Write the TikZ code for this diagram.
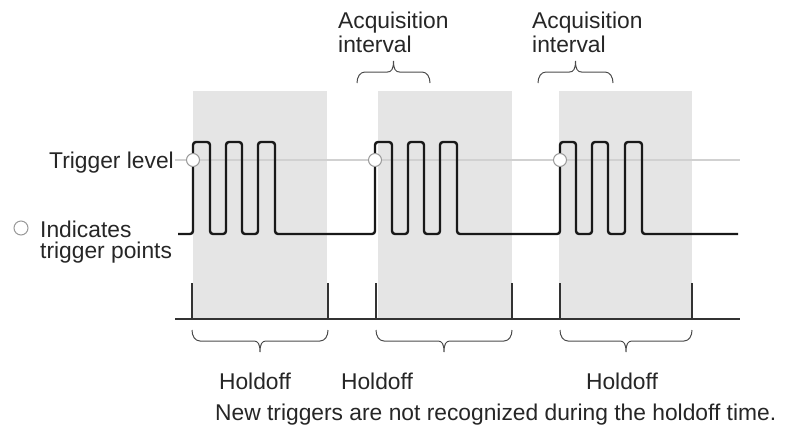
\documentclass[tikz,border=0pt]{standalone}
\usepackage{fontspec}
\setmainfont{Liberation Sans}
\newcommand\mybrace[4]{% x1, x2, y0, direction (1 down, -1 up)
  \begin{scope}[shift={(0,#3)}, yscale=#4]
    \pgfmathsetmacro\bm{(#1+#2)/2}
    \draw[brc] (#1,0) .. controls (#1,6) and (#1+3,11) .. (#1+8,11)
      -- (\bm-6,11) .. controls (\bm-2,11) and (\bm,14) .. (\bm,22)
      .. controls (\bm,14) and (\bm+2,11) .. (\bm+6,11)
      -- (#2-8,11) .. controls (#2-3,11) and (#2,6) .. (#2,0);
  \end{scope}}
\begin{document}
\begin{tikzpicture}[x=1pt,y=-1pt,
  txt/.style={font=\fontsize{22.8}{24}\selectfont, text=black!85, inner sep=0pt},
  holdbox/.style={fill=black!10, draw=none},
  sig/.style={line width=2.4pt, draw=black!90, rounded corners=3pt, line join=round},
  trigline/.style={line width=1.3pt, draw=black!18},
  trigpt/.style={draw=black!40, fill=white, line width=1pt},
  tickline/.style={line width=1.6pt, draw=black!80},
  brc/.style={draw=black!70, line width=1pt}]
\useasboundingbox (0,0) rectangle (789,437);
% holdoff shading
\fill[holdbox] (193,91) rectangle (327,319);
\fill[holdbox] (378,91) rectangle (512,319);
\fill[holdbox] (559,91) rectangle (692,319);
% trigger level
\coordinate (tl0) at (175,160);
\coordinate (tl1) at (740,160);
\draw[trigline] (tl0) -- (tl1);
% signal
\draw[sig] (178,234)
  -- (193,234) -- (193,142) -- (210,142) -- (210,234)
  -- (226,234) -- (226,142) -- (242,142) -- (242,234)
  -- (258,234) -- (258,142) -- (275,142) -- (275,234)
  -- (375,234) -- (375,142) -- (392,142) -- (392,234)
  -- (408,234) -- (408,142) -- (424,142) -- (424,234)
  -- (440,234) -- (440,142) -- (457,142) -- (457,234)
  -- (560,234) -- (560,142) -- (576,142) -- (576,234)
  -- (592,234) -- (592,142) -- (608,142) -- (608,234)
  -- (625,234) -- (625,142) -- (642,142) -- (642,234)
  -- (738,234);
% trigger points
\node[trigpt, circle, minimum size=13pt, inner sep=0pt] (tp1) at (193,160) {};
\node[trigpt, circle, minimum size=13pt, inner sep=0pt] (tp2) at (375,160) {};
\node[trigpt, circle, minimum size=13pt, inner sep=0pt] (tp3) at (560,160) {};
% time axis
\coordinate (ax0) at (175,319);
\coordinate (ax1) at (740,319);
\draw[tickline] (ax0) -- (ax1);
\foreach \x in {192,328,376,512,560,692}
  \draw[tickline] (\x,283) -- (\x,319);
% braces
\mybrace{192}{328}{330}{1}
\mybrace{376}{512}{330}{1}
\mybrace{560}{692}{330}{1}
\mybrace{357}{430}{83}{-1}
\mybrace{538}{613}{83}{-1}
% texts
\node[txt, anchor=base east] (trl) at (174,168) {Trigger level};
\node[trigpt, circle, minimum size=14pt, inner sep=0pt] (leg) at (21,228) {};
\node[txt, anchor=base west, align=left, font=\fontsize{22.8}{21}\selectfont] (legt) at (40,258) {Indicates\\trigger points};
\node[txt, anchor=base west, align=left] (acq1) at (338,52) {Acquisition\\interval};
\node[txt, anchor=base west, align=left] (acq2) at (532,52) {Acquisition\\interval};
\node[txt, anchor=base] (h1) at (255,389) {Holdoff};
\node[txt, anchor=base] (h2) at (377,389) {Holdoff};
\node[txt, anchor=base] (h3) at (622,389) {Holdoff};
\node[txt, anchor=base west] (note) at (215,420) {New triggers are not recognized during the holdoff time.};
\end{tikzpicture}
\end{document}
